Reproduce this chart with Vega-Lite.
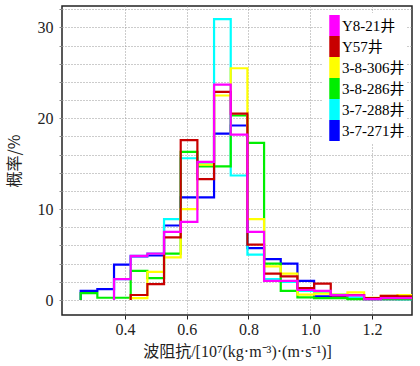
{
 "$schema": "https://vega.github.io/schema/vega-lite/v6.json",
 "width": 350, "height": 309,
 "autosize": {"type": "none"},
 "padding": {"left": 62, "top": 6, "right": 8, "bottom": 51},
 "background": "white",
 "config": {"view": {"stroke": "#222", "strokeWidth": 1.5}, "font": "Liberation Serif"},
 "data": {"values": [
  {"s":"3-7-271井","x":0.2565,"p":0},{"s":"3-7-271井","x":0.2565,"p":1.0},{"s":"3-7-271井","x":0.3105,"p":1.2},{"s":"3-7-271井","x":0.3645,"p":3.9},{"s":"3-7-271井","x":0.4185,"p":4.8},{"s":"3-7-271井","x":0.4725,"p":4.9},{"s":"3-7-271井","x":0.5265,"p":8.2},{"s":"3-7-271井","x":0.5805,"p":11.3},{"s":"3-7-271井","x":0.6345,"p":11.3},{"s":"3-7-271井","x":0.6885,"p":18.3},{"s":"3-7-271井","x":0.7425,"p":19.2},{"s":"3-7-271井","x":0.7965,"p":5.7},{"s":"3-7-271井","x":0.8505,"p":4.5},{"s":"3-7-271井","x":0.9045,"p":4.0},{"s":"3-7-271井","x":0.9585,"p":2.1},{"s":"3-7-271井","x":1.0125,"p":0.4},{"s":"3-7-271井","x":1.0665,"p":0.3},{"s":"3-7-271井","x":1.1205,"p":0.2},{"s":"3-7-271井","x":1.1745,"p":0.1},{"s":"3-7-271井","x":1.2285,"p":0.1},{"s":"3-7-271井","x":1.2825,"p":0.1},{"s":"3-7-271井","x":1.3365,"p":0},
  {"s":"3-7-288井","x":0.3645,"p":0},{"s":"3-7-288井","x":0.3645,"p":2.3},{"s":"3-7-288井","x":0.4185,"p":4.85},{"s":"3-7-288井","x":0.4725,"p":5.1},{"s":"3-7-288井","x":0.5265,"p":8.9},{"s":"3-7-288井","x":0.5805,"p":15.6},{"s":"3-7-288井","x":0.6345,"p":15.0},{"s":"3-7-288井","x":0.6885,"p":30.9},{"s":"3-7-288井","x":0.7425,"p":13.7},{"s":"3-7-288井","x":0.7965,"p":5.0},{"s":"3-7-288井","x":0.8505,"p":2.3},{"s":"3-7-288井","x":0.9045,"p":2.0},{"s":"3-7-288井","x":0.9585,"p":1.0},{"s":"3-7-288井","x":1.0125,"p":0.8},{"s":"3-7-288井","x":1.0665,"p":0.6},{"s":"3-7-288井","x":1.1205,"p":0.3},{"s":"3-7-288井","x":1.1745,"p":0.2},{"s":"3-7-288井","x":1.2285,"p":0.2},{"s":"3-7-288井","x":1.2825,"p":0.1},{"s":"3-7-288井","x":1.3365,"p":0},
  {"s":"3-8-286井","x":0.2565,"p":0},{"s":"3-8-286井","x":0.2565,"p":0.75},{"s":"3-8-286井","x":0.3105,"p":0.25},{"s":"3-8-286井","x":0.3645,"p":0.25},{"s":"3-8-286井","x":0.4185,"p":3.2},{"s":"3-8-286井","x":0.4725,"p":2.4},{"s":"3-8-286井","x":0.5265,"p":5.1},{"s":"3-8-286井","x":0.5805,"p":16.3},{"s":"3-8-286井","x":0.6345,"p":14.7},{"s":"3-8-286井","x":0.6885,"p":14.7},{"s":"3-8-286井","x":0.7425,"p":20.3},{"s":"3-8-286井","x":0.7965,"p":17.3},{"s":"3-8-286井","x":0.8505,"p":4.0},{"s":"3-8-286井","x":0.9045,"p":1.0},{"s":"3-8-286井","x":0.9585,"p":0.3},{"s":"3-8-286井","x":1.0125,"p":0.2},{"s":"3-8-286井","x":1.0665,"p":0.2},{"s":"3-8-286井","x":1.1205,"p":0.1},{"s":"3-8-286井","x":1.1745,"p":0.1},{"s":"3-8-286井","x":1.2285,"p":0.1},{"s":"3-8-286井","x":1.2825,"p":0.1},{"s":"3-8-286井","x":1.3365,"p":0},
  {"s":"3-8-306井","x":0.4185,"p":0},{"s":"3-8-306井","x":0.4185,"p":0.2},{"s":"3-8-306井","x":0.4725,"p":3.1},{"s":"3-8-306井","x":0.5265,"p":4.7},{"s":"3-8-306井","x":0.5805,"p":10.0},{"s":"3-8-306井","x":0.6345,"p":14.9},{"s":"3-8-306井","x":0.6885,"p":22.5},{"s":"3-8-306井","x":0.7425,"p":25.5},{"s":"3-8-306井","x":0.7965,"p":8.9},{"s":"3-8-306井","x":0.8505,"p":3.7},{"s":"3-8-306井","x":0.9045,"p":2.9},{"s":"3-8-306井","x":0.9585,"p":0.6},{"s":"3-8-306井","x":1.0125,"p":0.7},{"s":"3-8-306井","x":1.0665,"p":0.6},{"s":"3-8-306井","x":1.1205,"p":0.85},{"s":"3-8-306井","x":1.1745,"p":0.25},{"s":"3-8-306井","x":1.2285,"p":0.45},{"s":"3-8-306井","x":1.2825,"p":0.55},{"s":"3-8-306井","x":1.3365,"p":0},
  {"s":"Y57井","x":0.4185,"p":0},{"s":"Y57井","x":0.4185,"p":0.55},{"s":"Y57井","x":0.4725,"p":1.75},{"s":"Y57井","x":0.5265,"p":6.9},{"s":"Y57井","x":0.5805,"p":17.6},{"s":"Y57井","x":0.6345,"p":13.3},{"s":"Y57井","x":0.6885,"p":22.9},{"s":"Y57井","x":0.7425,"p":20.5},{"s":"Y57井","x":0.7965,"p":6.1},{"s":"Y57井","x":0.8505,"p":2.9},{"s":"Y57井","x":0.9045,"p":2.6},{"s":"Y57井","x":0.9585,"p":1.3},{"s":"Y57井","x":1.0125,"p":1.8},{"s":"Y57井","x":1.0665,"p":0.5},{"s":"Y57井","x":1.1205,"p":0.55},{"s":"Y57井","x":1.1745,"p":0.2},{"s":"Y57井","x":1.2285,"p":0.45},{"s":"Y57井","x":1.2825,"p":0.4},{"s":"Y57井","x":1.3365,"p":0},
  {"s":"Y8-21井","x":0.3645,"p":0},{"s":"Y8-21井","x":0.3645,"p":2.3},{"s":"Y8-21井","x":0.4185,"p":4.85},{"s":"Y8-21井","x":0.4725,"p":5.1},{"s":"Y8-21井","x":0.5265,"p":7.5},{"s":"Y8-21井","x":0.5805,"p":8.6},{"s":"Y8-21井","x":0.6345,"p":15.2},{"s":"Y8-21井","x":0.6885,"p":23.7},{"s":"Y8-21井","x":0.7425,"p":18.2},{"s":"Y8-21井","x":0.7965,"p":7.5},{"s":"Y8-21井","x":0.8505,"p":2.1},{"s":"Y8-21井","x":0.9045,"p":2.1},{"s":"Y8-21井","x":0.9585,"p":1.1},{"s":"Y8-21井","x":1.0125,"p":1.0},{"s":"Y8-21井","x":1.0665,"p":0.55},{"s":"Y8-21井","x":1.1205,"p":0.5},{"s":"Y8-21井","x":1.1745,"p":0.1},{"s":"Y8-21井","x":1.2285,"p":0.2},{"s":"Y8-21井","x":1.2825,"p":0.2},{"s":"Y8-21井","x":1.3365,"p":0}
 ]},
 "mark": {"type": "line", "interpolate": "step-after", "strokeWidth": 2.2, "clip": true},
 "encoding": {
  "x": {"field": "x", "type": "quantitative",
   "scale": {"domain": [0.196, 1.3296], "nice": false, "zero": false},
   "axis": {"values": [0.4, 0.6, 0.8, 1.0, 1.2], "format": ".1f",
    "title": "波阻抗/[10⁷(kg·m⁻³)·(m·s⁻¹)]",
    "grid": true, "gridDash": [1, 2], "gridColor": "#999", "gridWidth": 1,
    "domain": false, "tickSize": 4, "tickColor": "#222",
    "labelFontSize": 16, "labelFont": "Liberation Serif", "labelColor": "#222", "labelPadding": 2,
    "titleFontSize": 16, "titleFont": "Liberation Serif, Noto Sans CJK SC", "titleFontWeight": "normal", "titleColor": "#222", "titlePadding": 6}},
  "y": {"field": "p", "type": "quantitative",
   "scale": {"domain": [-1.65, 32.35], "nice": false, "zero": false},
   "axis": {"values": [0, 2, 4, 6, 8, 10, 12, 14, 16, 18, 20, 22, 24, 26, 28, 30, 32],
    "labelExpr": "datum.value % 10 === 0 ? datum.label : ''", "labelOverlap": false,
    "title": "概率/%",
    "grid": true, "gridDash": [1, 2], "gridColor": "#999", "gridWidth": 1,
    "domain": false, "tickSize": 3, "tickColor": "#888",
    "labelFontSize": 16, "labelFont": "Liberation Serif", "labelColor": "#222", "labelPadding": 6,
    "titleFontSize": 16, "titleFont": "Noto Sans CJK SC", "titleFontWeight": "normal", "titleColor": "#222", "titlePadding": 15}},
  "color": {"field": "s", "type": "nominal",
   "scale": {"domain": ["Y8-21井", "Y57井", "3-8-306井", "3-8-286井", "3-7-288井", "3-7-271井"],
    "range": ["#ff00ff", "#c80000", "#ffff00", "#00ee00", "#00ffff", "#0000ff"]},
   "legend": {"orient": "none", "legendX": 260, "legendY": 7, "title": null,
    "symbolType": "M-0.5,-1H0.5V1H-0.5Z", "symbolSize": 440, "symbolStrokeWidth": 0, "symbolOpacity": 1,
    "rowPadding": -0.6, "labelFontSize": 15, "labelFont": "Liberation Serif, Noto Sans CJK SC", "labelColor": "#000",
    "labelOffset": -3, "fillColor": "white", "padding": 2,
    "encode": {"symbols": {"update": {"fill": {"scale": "color", "field": "value"}, "stroke": {"value": "transparent"}, "size": {"value": 440}, "shape": {"value": "M-0.5,-1H0.5V1H-0.5Z"}}}}}}
 }
}
